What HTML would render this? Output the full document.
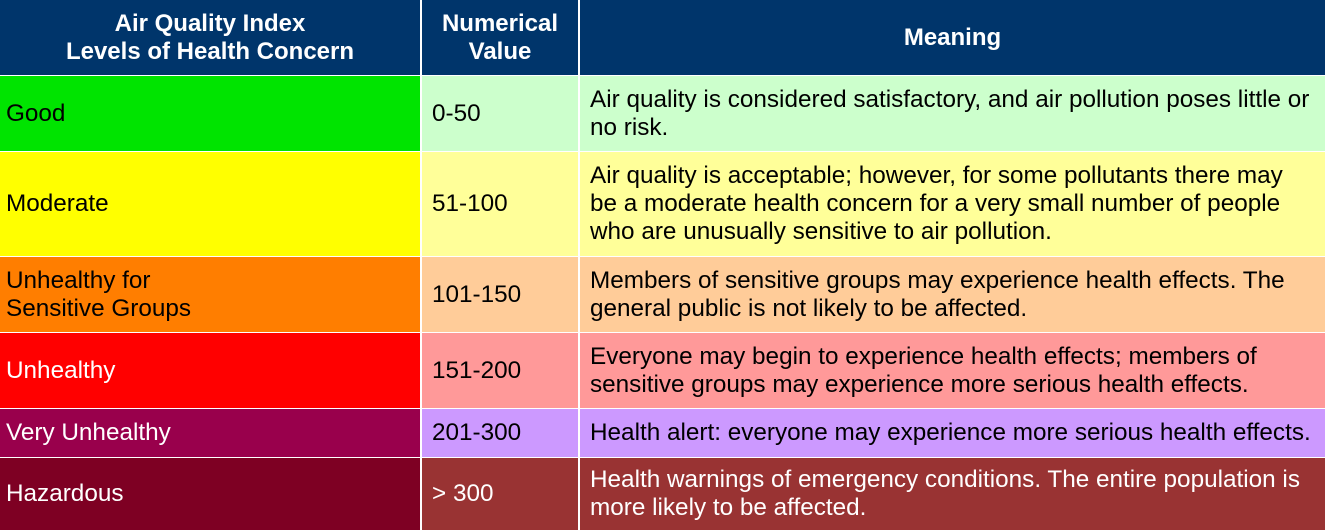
<!DOCTYPE html>
<html><head><meta charset="utf-8"><style>
body{margin:0;width:1325px;height:530px;overflow:hidden;background:#fff;font-family:"Liberation Sans",Arial,sans-serif;}
.c{position:absolute;box-sizing:border-box;display:flex;align-items:center;font-size:24.3px;line-height:28px;color:#000;white-space:nowrap;}
.h{background:#00356b;color:#fff;font-weight:bold;justify-content:center;text-align:center;font-size:24px;}
.l{padding-left:6px}.n{padding-left:10px}.m{padding-left:10px}
</style></head><body>
<div>
<div class="c h" style="left:0;top:0;width:420px;height:75px">Air Quality Index<br>Levels of Health Concern</div>
<div class="c h" style="left:422px;top:0;width:156px;height:75px">Numerical<br>Value</div>
<div class="c h" style="left:580px;top:0;width:745px;height:75px">Meaning</div>

<div class="c l" style="left:0;top:76px;width:420px;height:75px;background:#00e400">Good</div>
<div class="c n" style="left:422px;top:76px;width:156px;height:75px;background:#ccffcc">0-50</div>
<div class="c m" style="left:580px;top:76px;width:745px;height:75px;background:#ccffcc">Air quality is considered satisfactory, and air pollution poses little or<br>no risk.</div>

<div class="c l" style="left:0;top:152px;width:420px;height:104px;background:#ffff00">Moderate</div>
<div class="c n" style="left:422px;top:152px;width:156px;height:104px;background:#ffff99">51-100</div>
<div class="c m" style="left:580px;top:152px;width:745px;height:104px;background:#ffff99">Air quality is acceptable; however, for some pollutants there may<br>be a moderate health concern for a very small number of people<br>who are unusually sensitive to air pollution.</div>

<div class="c l" style="left:0;top:257px;width:420px;height:75px;background:#ff7e00">Unhealthy for<br>Sensitive Groups</div>
<div class="c n" style="left:422px;top:257px;width:156px;height:75px;background:#ffcc99">101-150</div>
<div class="c m" style="left:580px;top:257px;width:745px;height:75px;background:#ffcc99">Members of sensitive groups may experience health effects. The<br>general public is not likely to be affected.</div>

<div class="c l" style="left:0;top:333px;width:420px;height:75px;background:#ff0000;color:#fff">Unhealthy</div>
<div class="c n" style="left:422px;top:333px;width:156px;height:75px;background:#ff9999">151-200</div>
<div class="c m" style="left:580px;top:333px;width:745px;height:75px;background:#ff9999">Everyone may begin to experience health effects; members of<br>sensitive groups may experience more serious health effects.</div>

<div class="c l" style="left:0;top:409px;width:420px;height:48px;background:#99004c;color:#fff">Very Unhealthy</div>
<div class="c n" style="left:422px;top:409px;width:156px;height:48px;background:#cc99ff">201-300</div>
<div class="c m" style="left:580px;top:409px;width:745px;height:48px;background:#cc99ff">Health alert: everyone may experience more serious health effects.</div>

<div class="c l" style="left:0;top:458px;width:420px;height:72px;background:#7e0023;color:#fff">Hazardous</div>
<div class="c n" style="left:422px;top:458px;width:156px;height:72px;background:#993333;color:#fff">&gt; 300</div>
<div class="c m" style="left:580px;top:458px;width:745px;height:72px;background:#993333;color:#fff">Health warnings of emergency conditions. The entire population is<br>more likely to be affected.</div>
</div>
</body></html>
